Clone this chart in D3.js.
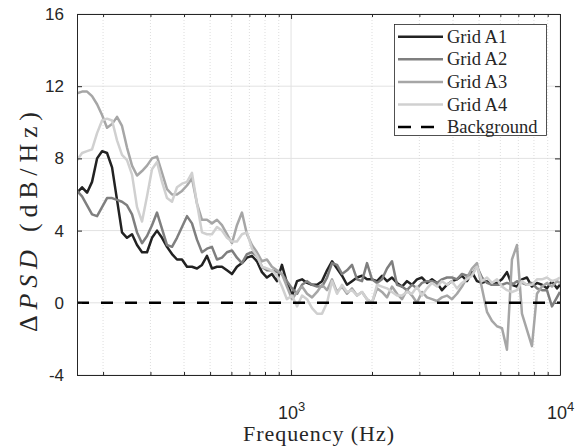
<!DOCTYPE html>
<html><head><meta charset="utf-8">
<script src="https://cdn.jsdelivr.net/npm/d3@7"></script>
<style>body{margin:0;background:#fff}</style>
</head><body>
<svg id="c" width="577" height="448"></svg>
<script>
const freq = [160.1,167.1,174.4,182.0,190.0,198.3,206.9,216.0,225.4,235.2,245.5,256.3,267.5,279.2,291.4,304.1,317.4,331.3,345.8,360.9,376.6,393.1,410.3,428.2,446.9,466.5,486.9,508.1,530.4,553.5,577.7,603.0,629.3,656.8,685.5,715.5,746.8,779.4,813.5,849.0,886.1,924.9,965.3,
1008.6,1052.7,1098.7,1146.8,1196.9,1249.2,1303.8,1360.8,1420.3,1482.4,1547.2,1614.8,1685.4,1759.1,1836.0,1916.3,2000.0,2087.4,2178.7,2273.9,2373.3,2477.1,2585.4,2698.4,2816.4,2939.5,3068.0,3202.1,3342.1,3488.2,3640.7,3799.9,3966.0,4139.4,4320.4,4509.3,4706.4,4912.2,5127.0,5351.1,5585.1,5829.3,6084.1,6350.1,6627.7,6917.5,7219.9,7535.6,7865.0,8208.9,8567.8,8942.4,9333.3,9741.4,10000];

const gridA1 = [6.1,6.4,6.1,6.7,8.0,8.4,8.3,7.5,5.7,3.9,3.6,3.8,3.2,2.8,2.8,3.6,4.0,3.6,3.1,2.7,2.4,2.4,2.0,2.0,1.9,2.1,2.6,1.9,2.0,2.0,1.8,1.6,2.0,2.2,2.5,2.6,2.3,1.7,1.4,1.6,1.2,2.1,1.1,
0.4,1.2,1.3,1.1,1.0,1.0,1.2,1.8,2.3,1.9,1.5,1.0,1.2,1.4,1.5,1.3,1.3,1.2,1.5,1.2,1.4,1.1,0.9,1.2,1.0,1.3,1.4,1.1,1.3,1.1,0.7,1.0,1.2,1.3,1.5,1.2,1.7,1.2,1.1,1.2,1.0,1.1,1.3,1.7,1.0,0.9,1.3,1.4,0.9,1.1,1.0,0.8,1.2,0.8,1.0];

const gridA2 = [6.2,5.9,5.4,4.9,4.8,5.3,5.8,5.8,5.7,5.6,5.4,4.9,3.9,3.3,3.7,4.3,5.0,4.1,3.2,3.1,3.6,4.2,4.8,4.4,3.5,2.8,3.0,3.1,2.4,2.5,2.8,2.9,2.5,2.2,2.7,2.8,2.6,2.0,1.8,1.8,1.7,1.6,1.2,
0.8,0.5,1.0,1.2,1.0,0.9,0.9,1.4,2.2,2.1,1.6,1.8,2.1,1.3,1.2,2.2,1.3,1.1,1.3,1.9,2.3,1.0,0.9,0.7,1.0,0.8,1.1,1.2,1.2,1.1,1.3,1.4,1.4,1.3,1.6,1.5,1.6,2.0,1.4,1.1,1.0,1.0,1.0,1.1,1.0,1.2,1.1,1.0,1.1,0.8,0.7,0.7,-0.2,0.3,0.6];

const gridA3 = [11.6,11.7,11.7,11.45,11.0,10.4,9.7,9.9,10.3,9.8,8.6,7.6,7.05,7.3,7.6,8.0,8.1,7.2,6.3,6.0,6.0,6.2,6.5,6.9,5.5,4.6,4.6,4.4,4.6,4.3,3.8,3.3,4.3,5.0,3.8,3.2,2.8,2.3,2.4,2.0,1.8,1.6,0.9,
0.2,0.6,0.9,0.5,0.3,0.6,1.0,0.7,1.3,0.6,0.9,0.5,0.8,0.4,0.6,0.2,0.0,0.8,0.6,0.3,0.9,0.5,0.2,0.7,0.4,0.0,0.6,0.3,0.2,0.1,0.3,0.4,0.2,0.5,0.9,1.4,1.9,2.2,0.8,-0.5,-1.0,-1.3,-1.4,-2.6,2.4,3.2,-0.6,-1.5,-2.4,0.5,0.9,1.1,0.9,1.2,1.1];

const gridA4 = [7.9,8.3,8.4,8.5,9.4,10.1,10.2,10.1,9.0,8.2,7.9,7.1,5.3,4.5,5.9,7.4,7.8,6.7,5.8,5.6,6.4,6.6,6.7,7.2,5.5,3.9,3.8,3.8,4.2,4.0,3.6,3.4,3.4,3.8,3.9,3.0,2.6,2.0,1.9,1.8,1.5,0.9,0.2,
0.4,-0.2,0.4,0.2,-0.3,-0.6,-0.6,0.0,1.2,0.5,1.0,0.6,0.7,0.4,0.6,0.2,0.0,1.0,0.9,0.8,0.6,0.4,0.4,0.6,0.5,0.9,0.4,0.8,1.1,0.9,1.2,1.0,1.2,0.8,1.1,1.3,1.5,2.0,1.2,1.4,1.1,1.3,0.9,0.7,0.6,0.7,1.2,1.0,1.0,1.3,1.3,1.4,1.2,1.3,1.4];

const backgroundLevel = [0, 0];
const backgroundFreq = [160, 10000];

const seriesNames = ["Grid A1", "Grid A2", "Grid A3", "Grid A4"];
const seriesColors = ["#222222", "#7f7f7f", "#a6a6a6", "#d0d0d0"];
const backgroundName = "Background";

const xDomain = [160, 10000];
const yDomain = [-4, 16];
const xMajorTicks = [1000, 10000];
const xMinorTicks = [200,300,400,500,600,700,800,900,2000,3000,4000,5000,6000,7000,8000,9000];
const yTicks = [-4, 0, 4, 8, 12, 16];

const L = 77, R = 560, T = 14, B = 375;
const axisColor = "#262626";
const svg = d3.select("#c");
const x = d3.scaleLog().domain(xDomain).range([L, R]);
const y = d3.scaleLinear().domain(yDomain).range([B, T]);

// grid
const grid = svg.append("g");
grid.selectAll("line.ymaj").data(yTicks).join("line")
  .attr("x1", L).attr("x2", R).attr("y1", d => y(d)).attr("y2", d => y(d))
  .attr("stroke", "#e2e2e2").attr("stroke-width", 1);
grid.selectAll("line.xmin").data(xMinorTicks).join("line")
  .attr("x1", d => x(d)).attr("x2", d => x(d)).attr("y1", T).attr("y2", B)
  .attr("stroke", "#d4d4d4").attr("stroke-width", 0.8).attr("stroke-dasharray", "1,2");
grid.selectAll("line.xmaj").data(xMajorTicks).join("line")
  .attr("x1", d => x(d)).attr("x2", d => x(d)).attr("y1", T).attr("y2", B)
  .attr("stroke", "#e2e2e2").attr("stroke-width", 1);

svg.append("clipPath").attr("id", "clip").append("rect")
  .attr("x", L).attr("y", T).attr("width", R - L).attr("height", B - T);

const plot = svg.append("g").attr("clip-path", "url(#clip)");
const line = d3.line().x((d, i) => x(freq[i])).y(d => y(d));
const allSeries = [gridA1, gridA2, gridA3, gridA4];
allSeries.forEach((s, i) => {
  plot.append("path").datum(s).attr("d", line)
    .attr("fill", "none").attr("stroke", seriesColors[i])
    .attr("stroke-width", 2.5).attr("stroke-linejoin", "round");
});
const bgLine = d3.line().x((d, i) => x(backgroundFreq[i])).y(d => y(d));
plot.append("path").datum(backgroundLevel).attr("d", bgLine)
  .attr("fill", "none").attr("stroke", "#000").attr("stroke-width", 2.5)
  .attr("stroke-dasharray", "12,12");

// axes
function styleAxis(g) {
  g.selectAll("path.domain").attr("stroke", axisColor);
  g.selectAll(".tick line").attr("stroke", axisColor);
  g.selectAll("text").attr("fill", axisColor);
}
const gB = svg.append("g").attr("transform", `translate(0,${B})`)
  .call(d3.axisBottom(x).tickValues(xMajorTicks).tickSize(-5).tickSizeOuter(0).tickPadding(31).tickFormat(""));
gB.selectAll(".tick text").each(function(d) {
  const t = d3.select(this);
  t.text(null);
  t.append("tspan").text("10");
  t.append("tspan").attr("dy", "-0.6em").attr("font-size", "13px").text(Math.round(Math.log10(d)));
}).attr("font-family", "'Liberation Sans', Arial, sans-serif").attr("font-size", "18px");
styleAxis(gB);
const gBm = svg.append("g").attr("transform", `translate(0,${B})`)
  .call(d3.axisBottom(x).tickValues(xMinorTicks).tickSize(-3).tickSizeOuter(0).tickFormat(""));
gBm.select("path.domain").remove();
styleAxis(gBm);

const gT = svg.append("g").attr("transform", `translate(0,${T})`)
  .call(d3.axisTop(x).tickValues(xMajorTicks).tickSize(-5).tickSizeOuter(0).tickFormat(""));
styleAxis(gT);
const gTm = svg.append("g").attr("transform", `translate(0,${T})`)
  .call(d3.axisTop(x).tickValues(xMinorTicks).tickSize(-3).tickSizeOuter(0).tickFormat(""));
gTm.select("path.domain").remove();
styleAxis(gTm);

const gL = svg.append("g").attr("transform", `translate(${L},0)`)
  .call(d3.axisLeft(y).tickValues(yTicks).tickSize(-5).tickSizeOuter(0).tickPadding(13).tickFormat(d => d < 0 ? "-" + Math.abs(d) : String(d)));
gL.selectAll("text").attr("font-family", "'Liberation Sans', Arial, sans-serif").attr("font-size", "17px");
styleAxis(gL);

const gR = svg.append("g").attr("transform", `translate(${R},0)`)
  .call(d3.axisRight(y).tickValues(yTicks).tickSize(-5).tickSizeOuter(0).tickFormat(""));
styleAxis(gR);

// axis labels
svg.append("text").attr("x", (L + R) / 2).attr("y", 441).attr("text-anchor", "middle")
  .attr("font-family", "'Liberation Serif', 'Times New Roman', serif").attr("font-size", "22px")
  .attr("fill", axisColor).attr("textLength", 151).attr("lengthAdjust", "spacing").text("Frequency (Hz)");
const yl = svg.append("text").attr("transform", "translate(37,222) rotate(-90)").attr("text-anchor", "middle")
  .attr("font-family", "'Liberation Serif', 'Times New Roman', serif").attr("font-size", "26px").attr("fill", axisColor)
  .attr("textLength", 220).attr("lengthAdjust", "spacing");
yl.append("tspan").text("Δ");
yl.append("tspan").attr("font-style", "italic").text("PSD");
yl.append("tspan").text(" (dB/Hz)");

// legend
const lg = svg.append("g");
lg.append("rect").attr("x", 394.5).attr("y", 24.5).attr("width", 152).attr("height", 111)
  .attr("fill", "#fff").attr("stroke", axisColor).attr("stroke-width", 0.8);
const legendItems = seriesNames.map((n, i) => ({name: n, color: seriesColors[i], dash: null}))
  .concat([{name: backgroundName, color: "#000", dash: "13,10"}]);
legendItems.forEach((it, i) => {
  const cy = 36.7 + i * 22.6;
  lg.append("line").attr("x1", 398).attr("x2", 443).attr("y1", cy).attr("y2", cy)
    .attr("stroke", it.color).attr("stroke-width", 2.5).attr("stroke-dasharray", it.dash);
  lg.append("text").attr("x", 447).attr("y", cy + 6)
    .attr("font-family", "'Liberation Serif', 'Times New Roman', serif").attr("font-size", "18.5px")
    .attr("fill", axisColor).text(it.name);
});
</script>
</body></html>
